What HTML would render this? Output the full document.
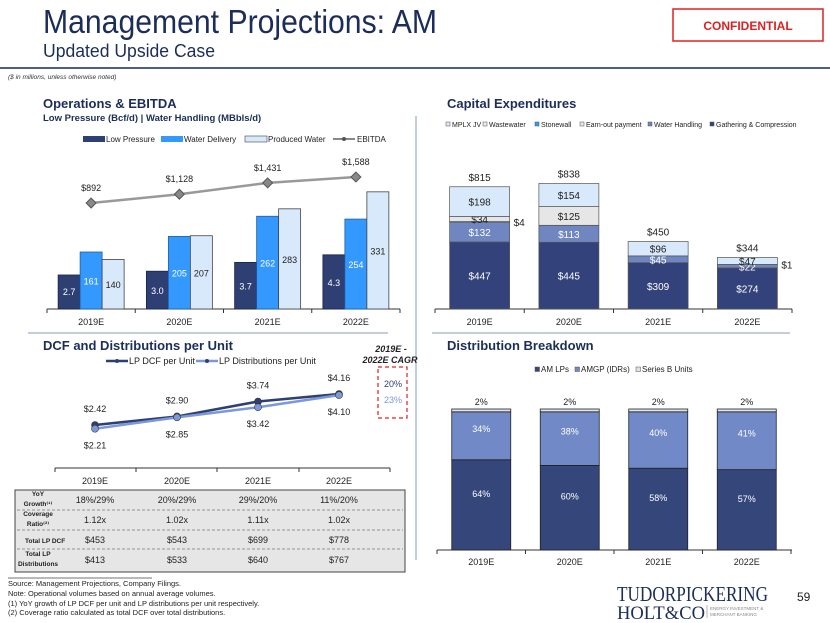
<!DOCTYPE html>
<html><head><meta charset="utf-8"><style>
body{margin:0;width:830px;height:623px;background:#fff;font-family:"Liberation Sans","DejaVu Sans",sans-serif;overflow:hidden}
svg{position:absolute;left:0;top:0}
</style></head><body>
<svg id="s" width="830" height="623" xmlns="http://www.w3.org/2000/svg" font-family="Liberation Sans, DejaVu Sans, sans-serif">
<g>
<text x="43" y="33" font-size="33" fill="#1c2d5a" textLength="394" lengthAdjust="spacingAndGlyphs">Management Projections: AM</text>
<text x="43" y="57" font-size="18" fill="#1c2d5a" textLength="172" lengthAdjust="spacingAndGlyphs">Updated Upside Case</text>
<rect x="673" y="9" width="150" height="32" fill="#fff" stroke="#e02020" stroke-width="1.5"/>
<text x="748" y="30" font-size="12" font-weight="bold" fill="#e02020" text-anchor="middle">CONFIDENTIAL</text>
<line x1="0" y1="68" x2="830" y2="68" stroke="#4a5f8f" stroke-width="2"/>
<text x="8" y="79" font-size="6.5" font-style="italic" fill="#333">($ in millions, unless otherwise noted)</text>
</g>
<line x1="416" y1="116" x2="416" y2="560" stroke="#8a9ac0" stroke-width="1"/>
<line x1="28" y1="333" x2="388" y2="333" stroke="#8a9ac0"/>
<line x1="432" y1="333" x2="790" y2="333" stroke="#8a9ac0"/>

<text x="43" y="108" font-size="13" font-weight="bold" fill="#1c2d5a">Operations &amp; EBITDA</text>
<text x="43" y="121" font-size="9.5" font-weight="bold" fill="#1c2d5a">Low Pressure (Bcf/d) | Water Handling (MBbls/d)</text>
<text x="447" y="108" font-size="13" font-weight="bold" fill="#1c2d5a">Capital Expenditures</text>
<text x="43" y="350" font-size="13" font-weight="bold" fill="#1c2d5a">DCF and Distributions per Unit</text>
<text x="447" y="350" font-size="13" font-weight="bold" fill="#1c2d5a">Distribution Breakdown</text>

<g id="ops"></g>
<g id="capex"></g>
<g id="dcf"></g>
<g id="dist"></g>
<g id="tbl"></g>

<g font-size="7.5" fill="#222">
<line x1="8" y1="578" x2="152" y2="578" stroke="#444" stroke-width="0.7"/>
<text x="8" y="586">Source: Management Projections, Company Filings.</text>
<text x="8" y="596">Note: Operational volumes based on annual average volumes.</text>
<text x="8" y="606">(1)    YoY growth of LP DCF per unit and LP distributions per unit respectively.</text>
<text x="8" y="615">(2)    Coverage ratio calculated as total DCF over total distributions.</text>
</g>
<g fill="#1c2d5a" font-family="Liberation Serif, serif">
<text x="617" y="601" font-size="21" textLength="151" lengthAdjust="spacingAndGlyphs">TUDORPICKERING</text>
<text x="617" y="619" font-size="19" textLength="88" lengthAdjust="spacingAndGlyphs">HOLT&amp;CO</text>
<line x1="707" y1="605" x2="707" y2="618" stroke="#888" stroke-width="0.6"/>
<text x="710" y="610" font-size="4.5" fill="#888" font-family="Liberation Sans, sans-serif">ENERGY INVESTMENT &amp;</text>
<text x="710" y="616" font-size="4.5" fill="#888" font-family="Liberation Sans, sans-serif">MERCHANT BANKING</text>
</g>
<text x="797" y="601" font-size="12" fill="#222">59</text>
</svg>
<script>
const NS="http://www.w3.org/2000/svg";
const years=["2019E","2020E","2021E","2022E"];
const lowPressure=[2.7,3.0,3.7,4.3];
const waterDelivery=[161,205,262,254];
const producedWater=[140,207,283,331];
const ebitda=[892,1128,1431,1588];
const ebitdaLabels=["$892","$1,128","$1,431","$1,588"];
const capexSeries=["Gathering & Compression","Water Handling","Stonewall","Earn-out payment","Wastewater","MPLX JV"];
const capexGC=[447,445,309,274];
const capexWH=[132,113,45,22];
const capexStone=[4,0,0,1];
const capexEarn=[34,125,0,0];
const capexWaste=[0,0,0,0];
const capexMPLX=[198,154,96,47];
const capexTotals=[815,838,450,344];
const dcfPerUnit=[2.42,2.90,3.74,4.16];
const distPerUnit=[2.21,2.85,3.42,4.10];
const distAM=[64,60,58,57];
const distAMGP=[34,38,40,41];
const distSeriesB=[2,2,2,2];
const tblRows=["YoY Growth","Coverage Ratio","Total LP DCF","Total LP Distributions"];
const tblGrowth=["18%/29%","20%/29%","29%/20%","11%/20%"];
const tblCoverage=["1.12x","1.02x","1.11x","1.02x"];
const tblDCF=["$453","$543","$699","$778"];
const tblDist=["$413","$533","$640","$767"];

function el(p,t,a,txt){const e=document.createElementNS(NS,t);for(const k in a)e.setAttribute(k,a[k]);if(txt!==undefined)e.textContent=txt;p.appendChild(e);return e;}
const fmt=v=>"$"+v;

// ---- Ops chart
(function(){
const g=document.getElementById('ops');
const base=309, x0=47, gw=88.25;
const yLP=v=>base-v*12.6, yW=v=>base-v*0.354, yE=v=>236.4-v*0.0374;
const cx=i=>x0+gw*(i+0.5);
el(g,'line',{x1:47,y1:base,x2:400,y2:base,stroke:'#333'});
for(let i=0;i<=4;i++)el(g,'line',{x1:x0+gw*i,y1:base,x2:x0+gw*i,y2:base+4,stroke:'#333'});
const cols=[['#2e3f74','#1b2547','#fff'],['#3399ff','#1f5fa8','#fff'],['#d8e9fb','#444','#222']];
years.forEach((y,i)=>{
 const vals=[[lowPressure[i],yLP(lowPressure[i]),lowPressure[i].toFixed(1)],[waterDelivery[i],yW(waterDelivery[i]),waterDelivery[i]],[producedWater[i],yW(producedWater[i]),producedWater[i]]];
 vals.forEach((v,k)=>{
  const bx=cx(i)-33+k*22;
  const r=el(g,'rect',{x:bx,y:v[1],width:22,height:base-v[1],fill:cols[k][0],stroke:cols[k][1],'stroke-width':0.8});
  
  
  el(g,'text',{x:bx+11,y:Math.max(v[1]+12,Math.min(base-14,(v[1]+base)/2+4)),'font-size':9,fill:cols[k][2],'text-anchor':'middle'},String(v[2]));
 });
 const lab=el(g,'text',{x:cx(i),y:325,'font-size':9,'text-anchor':'middle',fill:'#222'},y);
 
 
});
const pts=ebitda.map((v,i)=>cx(i)+','+yE(v)).join(' ');
el(g,'polyline',{points:pts,fill:'none',stroke:'#999',"stroke-width":2.5});
ebitda.forEach((v,i)=>{
 const m=el(g,'rect',{x:cx(i)-3.5,y:yE(v)-3.5,width:7,height:7,fill:'#888',stroke:'#555',transform:`rotate(45 ${cx(i)} ${yE(v)})`});
 
 
 el(g,'text',{x:cx(i),y:yE(v)-12,'font-size':9,'text-anchor':'middle',fill:'#222'},ebitdaLabels[i]);
});
const lg=el(g,'g',{'font-size':8,fill:'#222'});


el(lg,'rect',{x:83,y:136,width:22,height:6,fill:'#2e3f74'});el(lg,'text',{x:106,y:142},'Low Pressure');
el(lg,'rect',{x:161,y:136,width:22,height:6,fill:'#3399ff'});el(lg,'text',{x:184,y:142},'Water Delivery');
el(lg,'rect',{x:245,y:136,width:22,height:6,fill:'#d8e9fb',stroke:'#444','stroke-width':0.6});el(lg,'text',{x:268,y:142},'Produced Water');
el(lg,'line',{x1:333,y1:139,x2:355,y2:139,stroke:'#888','stroke-width':2});el(lg,'circle',{cx:344,cy:139,r:2,fill:'#555'});el(lg,'text',{x:357,y:142},'EBITDA');
})();

// ---- Capex chart
(function(){
const g=document.getElementById('capex');
const base=309, x0=435, gw=89.25, k=0.15;
const cx=i=>x0+gw*(i+0.5);
el(g,'line',{x1:435,y1:base,x2:792,y2:base,stroke:'#333'});
for(let i=0;i<=4;i++)el(g,'line',{x1:x0+gw*i,y1:base,x2:x0+gw*i,y2:base+4,stroke:'#333'});
const series=[capexGC,capexWH,capexStone,capexEarn,capexWaste,capexMPLX];
const fills=['#33427a','#6f86c0','#1f2b55','#e6e6e6','#e3eef8','#d8e9fb'];
const tcol=['#fff','#fff','#222','#222','#222','#222'];
years.forEach((y,i)=>{
 let cum=0;
 series.forEach((s,j)=>{
  const v=s[i]; if(!v)return;
  const y1=base-(cum+v)*k, h=v*k;
  const r=el(g,'rect',{x:cx(i)-30,y:y1,width:60,height:h,fill:fills[j],stroke:'#555','stroke-width':0.7});
  
  
  if(j===2) el(g,'text',{x:cx(i)+34,y:y1+h/2+4,'font-size':10,fill:'#222'},fmt(v));
  else el(g,'text',{x:cx(i),y:y1+h/2+4,'font-size':10,fill:tcol[j],'text-anchor':'middle'},fmt(v));
  cum+=v;
 });
 el(g,'text',{x:cx(i),y:base-capexTotals[i]*k-6,'font-size':10,fill:'#222','text-anchor':'middle'},fmt(capexTotals[i]));
 el(g,'text',{x:cx(i),y:325,'font-size':9,'text-anchor':'middle',fill:'#222'},y);
});
const lg=el(g,'g',{'font-size':7,fill:'#222'});


const items=[['MPLX JV','#d8e9fb',446],['Wastewater','#e3eef8',483],['Stonewall','#3399ff',535],['Earn-out payment','#e6e6e6',580],['Water Handling','#6f86c0',648],['Gathering & Compression','#33427a',710]];
items.forEach(it=>{el(lg,'rect',{x:it[2],y:122,width:4,height:4,fill:it[1],stroke:'#555','stroke-width':0.5});el(lg,'text',{x:it[2]+6,y:127},it[0]);});
})();

// ---- DCF chart
(function(){
const g=document.getElementById('dcf');
const xs=[95,177,258,339];
const yv=v=>425-(v-2.42)*17.8;
el(g,'line',{x1:55,y1:468,x2:390,y2:468,stroke:'#333'});
[55,136,217,299,390].forEach(x=>el(g,'line',{x1:x,y1:468,x2:x,y2:472,stroke:'#333'}));
years.forEach((y,i)=>el(g,'text',{x:xs[i],y:484,'font-size':9,'text-anchor':'middle',fill:'#222'},y));
const draw=(arr,col,name,above)=>{
 const pl=el(g,'polyline',{points:arr.map((v,i)=>xs[i]+','+yv(v)).join(' '),fill:'none',stroke:col,'stroke-width':2.5});
 
 
 arr.forEach((v,i)=>{
  const c=el(g,'circle',{cx:xs[i],cy:yv(v),r:3.5,fill:col,stroke:'#333','stroke-width':0.6});
  
  
  el(g,'text',{x:xs[i],y:above?yv(v)-13:yv(v)+20,'font-size':9,'text-anchor':'middle',fill:'#222'},'$'+v.toFixed(2));
 });
};
draw(dcfPerUnit,'#2e3f74','dcf',true);
draw(distPerUnit,'#7d98d8','dist',false);
const lg=el(g,'g',{'font-size':9,fill:'#222'});


el(lg,'line',{x1:106,y1:361,x2:128,y2:361,stroke:'#2e3f74','stroke-width':2.5});el(lg,'circle',{cx:117,cy:361,r:2,fill:'#2e3f74'});el(lg,'text',{x:129,y:364},'LP DCF per Unit');
el(lg,'line',{x1:196,y1:361,x2:218,y2:361,stroke:'#7d98d8','stroke-width':2.5});el(lg,'circle',{cx:207,cy:361,r:2,fill:'#2e3f74'});el(lg,'text',{x:219,y:364},'LP Distributions per Unit');
const cg=el(g,'g',{});


el(cg,'text',{x:391,y:352,'font-size':9,'font-weight':'bold','font-style':'italic','text-anchor':'middle',fill:'#222'},'2019E -');
el(cg,'text',{x:390,y:363,'font-size':9,'font-weight':'bold','font-style':'italic','text-anchor':'middle',fill:'#222'},'2022E CAGR');
el(cg,'rect',{x:378,y:367,width:29,height:51,fill:'none',stroke:'#e02020','stroke-dasharray':'4,3','stroke-width':1.2});
el(cg,'text',{x:393,y:387,'font-size':9,'text-anchor':'middle',fill:'#2e3f74'},'20%');
el(cg,'text',{x:393,y:403,'font-size':9,'text-anchor':'middle',fill:'#7d98d8'},'23%');
})();

// ---- Table
(function(){
const g=document.getElementById('tbl');
const xs=[95,177,258,339];
el(g,'rect',{x:15,y:490,width:390,height:82,fill:'#e6e6e6',stroke:'#444','stroke-width':1});
[510,530,549].forEach(y=>el(g,'line',{x1:17,y1:y,x2:403,y2:y,stroke:'#777','stroke-dasharray':'3,2','stroke-width':0.7}));
const lab=[[ ['YoY',496],['Growth⁽¹⁾',506] ],[ ['Coverage',516],['Ratio⁽²⁾',526] ],[ ['Total LP DCF',543] ],[ ['Total LP',556],['Distributions',566] ]];
lab.forEach((ls,r)=>ls.forEach(l=>el(g,'text',{x:r===2?25:38,y:l[1],'font-size':6.5,'font-weight':'bold','text-anchor':r===2?'start':'middle',fill:'#222'},l[0])));
const rows=[[tblGrowth,503],[tblCoverage,523],[tblDCF,543],[tblDist,563]];
rows.forEach((r,ri)=>r[0].forEach((v,i)=>{
 const t=el(g,'text',{x:xs[i],y:r[1],'font-size':9,'text-anchor':'middle',fill:'#222'},v);
 
 
}));
})();

// ---- Distribution chart
(function(){
const g=document.getElementById('dist');
const base=550, x0=437, gw=88.5, k=1.41;
const cx=i=>x0+gw*(i+0.5);
el(g,'line',{x1:437,y1:base,x2:792,y2:base,stroke:'#333'});
for(let i=0;i<=4;i++)el(g,'line',{x1:x0+gw*i,y1:base,x2:x0+gw*i,y2:base+4,stroke:'#333'});
const series=[distAM,distAMGP,distSeriesB];
const fills=['#34467a','#7189c6','#dde3ec'];
years.forEach((y,i)=>{
 let cum=0;
 series.forEach((s,j)=>{
  const v=s[i]; const y1=base-(cum+v)*k, h=v*k;
  const r=el(g,'rect',{x:cx(i)-29.5,y:y1,width:59,height:h,fill:fills[j],stroke:'#222','stroke-width':0.8});
  
  
  if(j<2) el(g,'text',{x:cx(i),y:j===0?y1+h/2-8:y1+h/2-4,'font-size':9,'text-anchor':'middle',fill:'#fff'},v+'%');
  else el(g,'text',{x:cx(i),y:y1-4,'font-size':9,'text-anchor':'middle',fill:'#222'},v+'%');
  cum+=v;
 });
 el(g,'text',{x:cx(i),y:565,'font-size':9,'text-anchor':'middle',fill:'#222'},y);
});
const lg=el(g,'g',{'font-size':8,fill:'#222'});


[['AM LPs','#34467a',541],['AMGP (IDRs)','#7189c6',581],['Series B Units','#dde3ec',642]].forEach(it=>{el(lg,'rect',{x:it[2]-6,y:367,width:4.5,height:4.5,fill:it[1],stroke:'#555','stroke-width':0.5});el(lg,'text',{x:it[2],y:372},it[0]);});
})();
</script>
</body></html>
